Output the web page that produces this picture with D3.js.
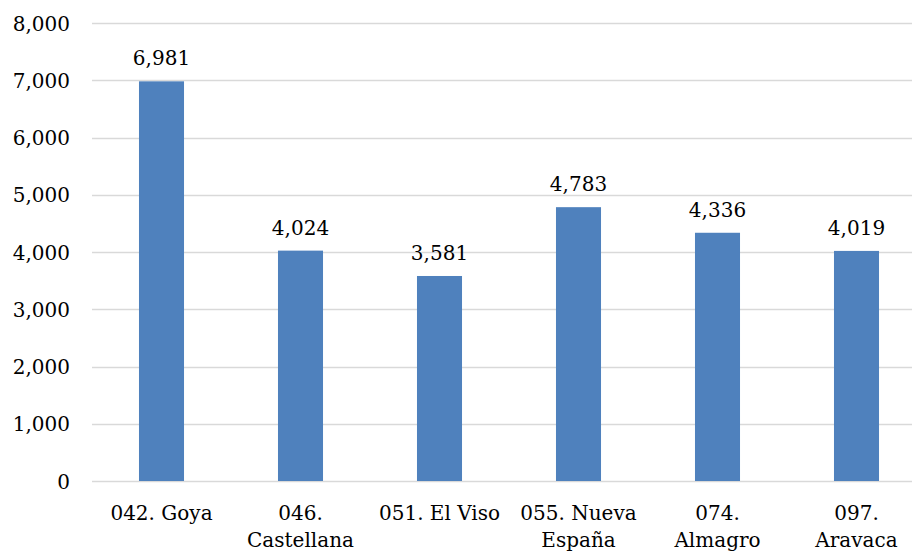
<!DOCTYPE html>
<html><head><meta charset="utf-8">
<script src="https://cdn.jsdelivr.net/npm/d3@7"></script>
<style>body{margin:0;background:#fff}svg{display:block}</style>
</head><body>
<svg id="c" width="912" height="551"></svg>
<script>
const categories = [["042. Goya"], ["046.", "Castellana"], ["051. El Viso"], ["055. Nueva", "España"], ["074.", "Almagro"], ["097.", "Aravaca"]];
const values = [6981, 4024, 3581, 4783, 4336, 4019];
const yTicks = [0, 1000, 2000, 3000, 4000, 5000, 6000, 7000, 8000];

const FONT = "'DejaVu Serif', serif";
const FS = 20;
const svg = d3.select("#c");
const keys = categories.map(c => c.join(" "));
const x = d3.scaleBand().domain(keys).range([92, 926]).paddingInner(0.676).paddingOuter(0.338);
const y = d3.scaleLinear().domain([0, 8000]).range([481, 23]);

// gridlines
svg.append("g").selectAll("line").data(yTicks).join("line")
  .attr("x1", 92).attr("x2", 926)
  .attr("y1", d => Math.round(y(d)) + 0.5).attr("y2", d => Math.round(y(d)) + 0.5)
  .attr("stroke", "#d9d9d9").attr("stroke-width", 1.3);

// y axis labels
const yAxis = d3.axisLeft(y).tickValues(yTicks).tickFormat(d3.format(",")).tickSize(0).tickPadding(0);
const ya = svg.append("g").attr("transform", "translate(70,0)").call(yAxis);
ya.select(".domain").remove();
ya.selectAll("text").attr("font-family", FONT).attr("font-size", FS).attr("fill", "#000").attr("dy", "0.35em");

// bars
svg.append("g").selectAll("rect").data(values).join("rect")
  .attr("x", (d, i) => x(keys[i])).attr("width", x.bandwidth())
  .attr("y", d => y(d)).attr("height", d => y(0) - y(d))
  .attr("fill", "#4f81bd");

// value labels
svg.append("g").selectAll("text").data(values).join("text")
  .attr("x", (d, i) => x(keys[i]) + x.bandwidth() / 2)
  .attr("y", d => y(d) - 16)
  .attr("text-anchor", "middle")
  .attr("font-family", FONT).attr("font-size", FS).attr("fill", "#000")
  .text(d => d3.format(",")(d));

// x axis labels
const xa = svg.append("g");
categories.forEach((c, i) => {
  const t = xa.append("text")
    .attr("x", x(keys[i]) + x.bandwidth() / 2)
    .attr("y", 520)
    .attr("text-anchor", "middle")
    .attr("font-family", FONT).attr("font-size", FS).attr("fill", "#000");
  c.forEach((line, j) => t.append("tspan").attr("x", x(keys[i]) + x.bandwidth() / 2).attr("dy", j === 0 ? 0 : 27).text(line));
});
</script>
</body></html>
